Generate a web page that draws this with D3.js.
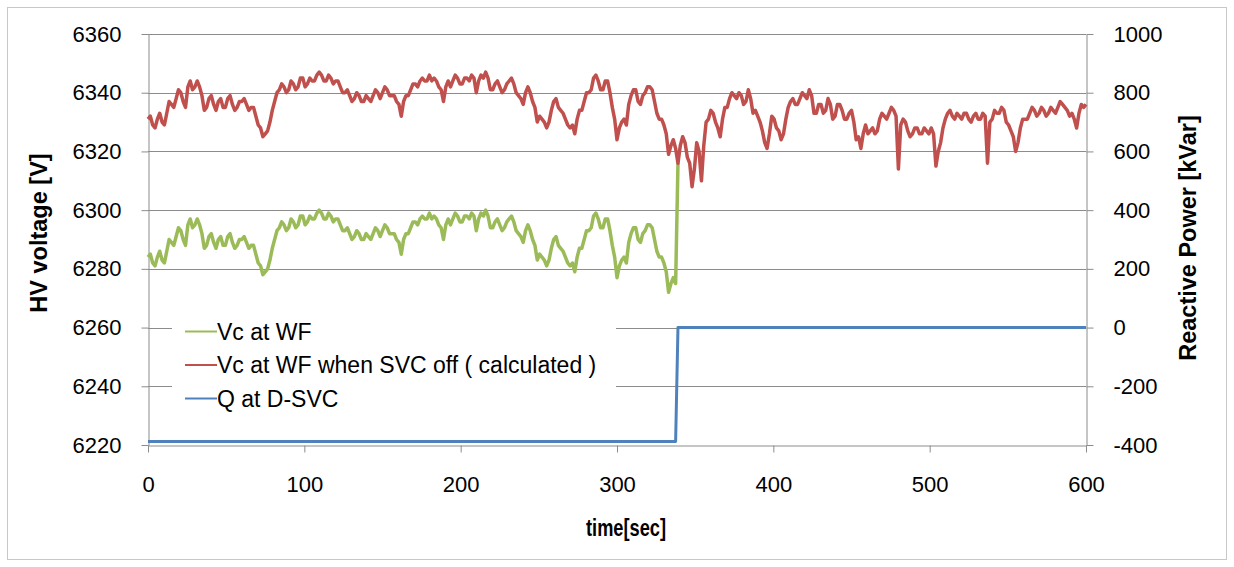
<!DOCTYPE html>
<html>
<head>
<meta charset="utf-8">
<script src="https://cdn.jsdelivr.net/npm/d3@7"></script>
<style>
  html, body { margin: 0; padding: 0; background: #fff; }
  svg { display: block; font-family: "Liberation Sans", Arial, sans-serif; }
</style>
</head>
<body>
<svg id="chart" width="1234" height="567"></svg>
<script>
// Sampling interval of the voltage records, in seconds
const sampleStep = 1.5;

// Vc at WF when SVC off (calculated), V — one value every sampleStep seconds from 0 to 600 s
const vcSvcOff = [
  6331, 6332, 6329, 6328, 6331, 6333, 6330, 6329, 6333, 6337, 6336, 6335, 6338, 6341, 6340, 6337, 6335, 6342, 6344, 6341, 6342,
  6344, 6342, 6339, 6334, 6335, 6338, 6339, 6336, 6334, 6337, 6338, 6335, 6335, 6338, 6339, 6336, 6334, 6335, 6337, 6337,
  6338, 6336, 6334, 6335, 6335, 6332, 6329, 6328, 6325, 6326, 6327, 6330, 6334, 6337, 6340, 6341, 6343, 6342, 6340, 6341,
  6344, 6343, 6341, 6342, 6345, 6345, 6342, 6343, 6345, 6344, 6344, 6346, 6347, 6346, 6344, 6344, 6346, 6345, 6343, 6344,
  6344, 6342, 6340, 6340, 6341, 6339, 6337, 6338, 6340, 6339, 6337, 6337, 6339, 6338, 6337, 6339, 6341, 6340, 6338, 6340,
  6342, 6341, 6339, 6339, 6339, 6337, 6336, 6332, 6337, 6339, 6339, 6341, 6343, 6343, 6342, 6344, 6345, 6344, 6344, 6346,
  6344, 6345, 6344, 6342, 6341, 6337, 6342, 6344, 6342, 6344, 6346, 6345, 6343, 6343, 6345, 6345, 6344, 6346, 6345, 6340,
  6344, 6346, 6345, 6347, 6345, 6341, 6341, 6343, 6344, 6342, 6340, 6341, 6343, 6344, 6345, 6343, 6340, 6339, 6338, 6336,
  6340, 6342, 6340, 6337, 6335, 6330, 6332, 6331, 6330, 6328, 6330, 6334, 6337, 6338, 6335, 6334, 6333, 6331, 6329, 6328,
  6329, 6326, 6331, 6334, 6334, 6337, 6340, 6340, 6341, 6345, 6346, 6344, 6341, 6341, 6344, 6344, 6340, 6335, 6331, 6324,
  6328, 6330, 6331, 6329, 6336, 6339, 6341, 6341, 6337, 6336, 6339, 6340, 6342, 6342, 6341, 6337, 6333, 6331, 6331, 6329,
  6326, 6319, 6322, 6324, 6321, 6316, 6322, 6325, 6323, 6318, 6316, 6308, 6314, 6323, 6320, 6310, 6322, 6330, 6331, 6334,
  6333, 6330, 6328, 6325, 6331, 6335, 6335, 6338, 6340, 6339, 6338, 6340, 6339, 6336, 6337, 6341, 6338, 6333, 6334, 6332,
  6330, 6327, 6323, 6321, 6326, 6332, 6331, 6328, 6327, 6324, 6326, 6331, 6335, 6337, 6338, 6336, 6336, 6338, 6340, 6339,
  6338, 6341, 6339, 6333, 6333, 6336, 6336, 6333, 6334, 6338, 6336, 6331, 6332, 6336, 6336, 6334, 6331, 6331, 6333, 6334,
  6330, 6324, 6325, 6321, 6326, 6329, 6326, 6327, 6328, 6326, 6327, 6331, 6333, 6332, 6331, 6333, 6335, 6334, 6332, 6314,
  6329, 6331, 6330, 6327, 6325, 6326, 6328, 6328, 6326, 6326, 6328, 6327, 6326, 6328, 6326, 6315, 6320, 6323, 6328, 6331,
  6333, 6334, 6332, 6331, 6333, 6332, 6331, 6333, 6333, 6331, 6330, 6332, 6333, 6331, 6331, 6333, 6332, 6316, 6330, 6331,
  6334, 6333, 6333, 6335, 6334, 6330, 6329, 6327, 6325, 6320, 6323, 6328, 6331, 6331, 6331, 6333, 6335, 6334, 6332, 6333,
  6335, 6334, 6332, 6333, 6335, 6334, 6333, 6335, 6337, 6336, 6335, 6334, 6332, 6333, 6331, 6328, 6333, 6336, 6335, 6336
];

// Vc at WF (measured), V — from 0 s until the SVC is switched off at about 339 s
const vcMeasured = [
  6284, 6285, 6282, 6281, 6284, 6286, 6283, 6282, 6286, 6290, 6289, 6288, 6291, 6294, 6293, 6290, 6288, 6295, 6297, 6294, 6295,
  6297, 6295, 6292, 6287, 6288, 6291, 6292, 6289, 6287, 6290, 6291, 6288, 6288, 6291, 6292, 6289, 6287, 6288, 6290, 6290,
  6291, 6289, 6287, 6288, 6288, 6285, 6282, 6281, 6278, 6279, 6280, 6283, 6287, 6290, 6293, 6294, 6296, 6295, 6293, 6294,
  6297, 6296, 6294, 6295, 6298, 6298, 6295, 6296, 6298, 6297, 6297, 6299, 6300, 6299, 6297, 6297, 6299, 6298, 6296, 6297,
  6297, 6295, 6293, 6293, 6294, 6292, 6290, 6291, 6293, 6292, 6290, 6290, 6292, 6291, 6290, 6292, 6294, 6293, 6291, 6293,
  6295, 6294, 6292, 6292, 6292, 6290, 6289, 6285, 6290, 6292, 6292, 6294, 6296, 6296, 6295, 6297, 6298, 6297, 6297, 6299,
  6297, 6298, 6297, 6295, 6294, 6290, 6295, 6297, 6295, 6297, 6299, 6298, 6296, 6296, 6298, 6298, 6297, 6299, 6298, 6293,
  6297, 6299, 6298, 6300, 6298, 6294, 6294, 6296, 6297, 6295, 6293, 6294, 6296, 6297, 6298, 6296, 6293, 6292, 6291, 6289,
  6293, 6295, 6293, 6290, 6288, 6283, 6285, 6284, 6283, 6281, 6283, 6287, 6290, 6291, 6288, 6287, 6286, 6284, 6282, 6281,
  6282, 6279, 6284, 6287, 6287, 6290, 6293, 6293, 6294, 6298, 6299, 6297, 6294, 6294, 6297, 6297, 6293, 6288, 6284, 6277,
  6281, 6283, 6284, 6282, 6289, 6292, 6294, 6294, 6290, 6289, 6292, 6293, 6295, 6295, 6294, 6290, 6286, 6284, 6284, 6282,
  6279, 6272, 6275, 6277, 6275, 6316
];

// Q at D-SVC, kVar
const qTimes  = [0, 337.5, 339, 600];
const qValues = [-388, -388, 0, 0];

// Axis ticks
const timeTicks    = [0, 100, 200, 300, 400, 500, 600];
const voltageTicks = [6220, 6240, 6260, 6280, 6300, 6320, 6340, 6360];
const powerTicks   = [-400, -200, 0, 200, 400, 600, 800, 1000];

// Legend entries
const seriesNames  = ["Vc at WF", "Vc at WF when SVC off ( calculated )", "Q at D-SVC"];
const seriesColors = ["#9bbb59", "#c0504d", "#4f81bd"];

const svg = d3.select("#chart");
const plot = { left: 148, right: 1086, top: 34, bottom: 445 };

const x  = d3.scaleLinear().domain([0, 600]).range([plot.left, plot.right]);
const yV = d3.scaleLinear().domain([6220, 6360]).range([plot.bottom, plot.top]);
const yQ = d3.scaleLinear().domain([-400, 1000]).range([plot.bottom, plot.top]);

const gridColor = "#8c8c8c";
const plainNumber = d => String(d);

// Outer chart frame
svg.append("rect")
  .attr("x", 7.5).attr("y", 7.5)
  .attr("width", 1219).attr("height", 552)
  .attr("fill", "#fff").attr("stroke", "#c8c8c8").attr("stroke-width", 1);

// Horizontal gridlines
svg.append("g").selectAll("line")
  .data(voltageTicks.slice(1))
  .join("line")
  .attr("x1", plot.left).attr("x2", plot.right)
  .attr("y1", d => Math.round(yV(d)) + 0.5).attr("y2", d => Math.round(yV(d)) + 0.5)
  .attr("stroke", gridColor).attr("stroke-width", 1);

// Axes
function styleAxis(g) {
  g.select(".domain").attr("stroke", gridColor);
  g.selectAll(".tick line").attr("stroke", gridColor);
  g.selectAll(".tick text").attr("fill", "#000").attr("font-size", 22)
    .attr("font-family", "'Liberation Sans', Arial, sans-serif");
}

svg.append("g")
  .attr("transform", `translate(${plot.left + 0.5},0)`)
  .call(d3.axisLeft(yV).tickValues(voltageTicks).tickFormat(plainNumber)
    .tickSize(7).tickPadding(20).tickSizeOuter(0))
  .call(styleAxis);

svg.append("g")
  .attr("transform", `translate(${plot.right + 0.5},0)`)
  .call(d3.axisRight(yQ).tickValues(powerTicks).tickFormat(plainNumber)
    .tickSize(7).tickPadding(20).tickSizeOuter(0))
  .call(styleAxis);

svg.append("g")
  .attr("transform", `translate(0,${plot.bottom + 0.5})`)
  .call(d3.axisBottom(x).tickValues(timeTicks).tickFormat(plainNumber)
    .tickSize(7).tickPadding(24).tickSizeOuter(0))
  .call(styleAxis);

// Series lines
const sampleTime = i => i * sampleStep;

const lineV = d3.line()
  .x((d, i) => x(sampleTime(i)))
  .y(d => yV(d));

svg.append("path")
  .datum(vcMeasured)
  .attr("d", lineV)
  .attr("fill", "none")
  .attr("stroke", seriesColors[0])
  .attr("stroke-width", 3.5)
  .attr("stroke-linejoin", "round");

svg.append("path")
  .datum(vcSvcOff)
  .attr("d", lineV)
  .attr("fill", "none")
  .attr("stroke", seriesColors[1])
  .attr("stroke-width", 3.5)
  .attr("stroke-linejoin", "round");

const lineQ = d3.line()
  .x((d, i) => x(qTimes[i]))
  .y(d => yQ(d));

svg.append("path")
  .datum(qValues)
  .attr("d", lineQ)
  .attr("fill", "none")
  .attr("stroke", seriesColors[2])
  .attr("stroke-width", 3)
  .attr("stroke-linejoin", "round");

// Legend
const legend = svg.append("g");
legend.append("rect")
  .attr("x", 172).attr("y", 312)
  .attr("width", 444).attr("height", 106)
  .attr("fill", "#fff");

const rows = legend.selectAll("g.row")
  .data(seriesNames)
  .join("g")
  .attr("class", "row")
  .attr("transform", (d, i) => `translate(0,${331.5 + i * 33.5})`);

rows.append("line")
  .attr("x1", 185).attr("x2", 217)
  .attr("y1", 0).attr("y2", 0)
  .attr("stroke", (d, i) => seriesColors[i])
  .attr("stroke-width", 2);

rows.append("text")
  .attr("x", 217).attr("y", 8)
  .attr("font-size", 23)
  .attr("fill", "#000")
  .text(d => d);

// Axis titles
svg.append("text")
  .attr("transform", "translate(47,233) rotate(-90)")
  .attr("text-anchor", "middle")
  .attr("font-size", 23.5).attr("font-weight", "bold")
  .text("HV voltage [V]");

svg.append("text")
  .attr("transform", "translate(1196,238) rotate(-90)")
  .attr("text-anchor", "middle")
  .attr("font-size", 23.5).attr("font-weight", "bold")
  .text("Reactive Power [kVar]");

svg.append("text")
  .attr("x", 626).attr("y", 536)
  .attr("text-anchor", "middle")
  .attr("font-size", 23).attr("font-weight", "bold")
  .attr("textLength", 80).attr("lengthAdjust", "spacingAndGlyphs")
  .text("time[sec]");
</script>
</body>
</html>
